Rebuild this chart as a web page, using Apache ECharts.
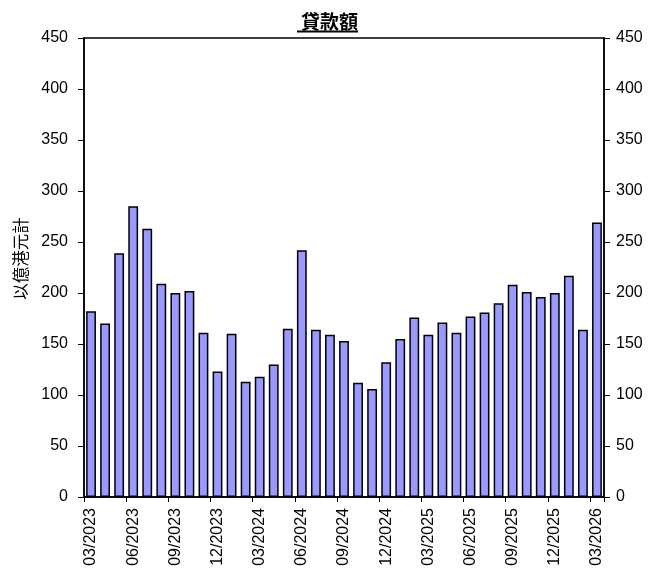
<!DOCTYPE html>
<html>
<head>
<meta charset="utf-8">
<script src="https://cdn.jsdelivr.net/npm/echarts@6/dist/echarts.min.js"></script>
<style>html,body{margin:0;padding:0;background:#fff;}#c{width:659px;height:569px;}</style>
</head>
<body>
<div id="c"></div>
<script>
const months = ['03/2023','04/2023','05/2023','06/2023','07/2023','08/2023','09/2023','10/2023','11/2023','12/2023','01/2024','02/2024','03/2024','04/2024','05/2024','06/2024','07/2024','08/2024','09/2024','10/2024','11/2024','12/2024','01/2025','02/2025','03/2025','04/2025','05/2025','06/2025','07/2025','08/2025','09/2025','10/2025','11/2025','12/2025','01/2026','02/2026','03/2026'];
const loans = [182,170,239,285,263,209,200,202,161,123,160,113,118,130,165,242,164,159,153,112,106,132,155,176,159,171,161,177,181,190,208,201,196,200,217,164,269];
const titleText = '貸款額';
const yName = '以億港元計';

const font = 'Liberation Sans, Arial, sans-serif';
const cjk = 'Noto Sans CJK TC, sans-serif';
const chart = echarts.init(document.getElementById('c'), null, {renderer: 'canvas'});
function yAxisCommon(margin) {
  return {
    type: 'value', min: 0, max: 450, interval: 50,
    axisLine: {show: true, lineStyle: {color: '#000', width: 1.5}},
    axisTick: {show: true, length: 6, lineStyle: {color: '#000', width: 1}},
    splitLine: {show: false},
    axisLabel: {color: '#000', fontSize: 16, fontFamily: font, margin: margin}
  };
}
chart.setOption({
  animation: false,
  backgroundColor: '#fff',
  title: {
    text: titleText, left: 'center', top: 7,
    textStyle: {fontSize: 19, fontWeight: 'bold', color: '#000', fontFamily: cjk}
  },
  graphic: [{
    type: 'rect', shape: {x: 297, y: 30.5, width: 61, height: 2}, style: {fill: '#000'}
  }],
  grid: {left: 84, right: 55, top: 38, bottom: 72, show: true, borderColor: '#000', borderWidth: 1.5, backgroundColor: 'transparent'},
  xAxis: {
    type: 'category', data: months, boundaryGap: true,
    axisLine: {show: true, lineStyle: {color: '#000', width: 1.5}},
    axisTick: {show: true, interval: 2, length: 5, alignWithLabel: false, lineStyle: {color: '#000', width: 1}},
    axisLabel: {interval: 2, rotate: 90, color: '#000', fontSize: 16, fontFamily: font, margin: 11}
  },
  yAxis: [
    Object.assign(yAxisCommon(16), {
      position: 'left', name: yName, nameLocation: 'middle', nameGap: 55, nameRotate: 90,
      nameTextStyle: {fontSize: 16.5, color: '#000', fontFamily: cjk, padding: [0, 0, 0, 18]}
    }),
    Object.assign(yAxisCommon(12), {position: 'right'})
  ],
  series: [{
    type: 'bar', data: loans, yAxisIndex: 0, barCategoryGap: '30%',
    itemStyle: {color: '#9999FF', borderColor: '#000', borderWidth: 1.5}
  }]
});
</script>
</body>
</html>
